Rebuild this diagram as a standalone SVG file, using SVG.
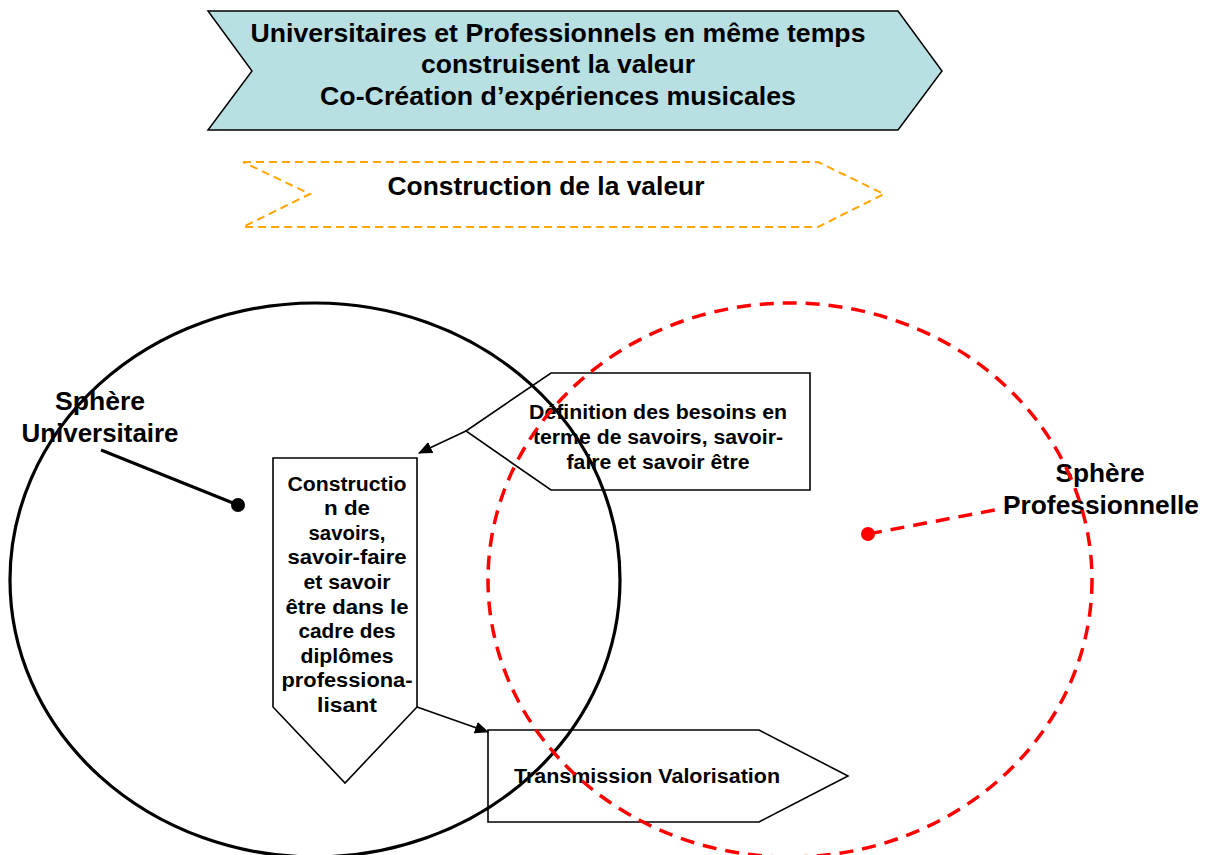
<svg xmlns="http://www.w3.org/2000/svg" width="1208" height="855" viewBox="0 0 1208 855">
<style>
text{font-family:"Liberation Sans",Arial,sans-serif;font-weight:bold;fill:#000;text-anchor:middle}
.big{font-size:26px}
.mid{font-size:19.5px}
.box{fill:#fff;stroke:#000;stroke-width:1.6}
</style>
<defs>
<marker id="ah" markerWidth="14" markerHeight="12" refX="13" refY="6" orient="auto" markerUnits="userSpaceOnUse" viewBox="0 0 14 12">
<path d="M0,0 L14,6 L0,12 z" fill="#000"/>
</marker>
</defs>
<rect width="1208" height="855" fill="#fff"/>
<g id="top-banner">
<polygon points="208,11 898,11 942,71 898,130 208,130 252,71" fill="#B8DFE2" stroke="#000" stroke-width="1.5"/>
<text class="big" x="558" y="42" textLength="615" lengthAdjust="spacingAndGlyphs">Universitaires et Professionnels en même temps</text>
<text class="big" x="558" y="73" textLength="274" lengthAdjust="spacingAndGlyphs">construisent la valeur</text>
<text class="big" x="558" y="105" textLength="476" lengthAdjust="spacingAndGlyphs">Co-Création d’expériences musicales</text>
</g>
<g id="construction-valeur">
<polygon points="243,162 818,162 884,194 818,227 243,227 310,194" fill="none" stroke="#FFA500" stroke-width="2" stroke-dasharray="8,5"/>
<text class="big" x="546" y="195" textLength="317" lengthAdjust="spacingAndGlyphs">Construction de la valeur</text>
</g>
<g id="definition">
<polygon class="box" points="466,431 551,373 810,373 810,490 551,490"/>
<text class="mid" x="658" y="419" textLength="258" lengthAdjust="spacingAndGlyphs">Définition des besoins en</text>
<text class="mid" x="658" y="444" textLength="250" lengthAdjust="spacingAndGlyphs">terme de savoirs, savoir-</text>
<text class="mid" x="658" y="469" textLength="183" lengthAdjust="spacingAndGlyphs">faire et savoir être</text>
</g>
<g id="construction-savoirs">
<polygon class="box" points="273,458 417,458 417,707 345,783 273,707"/>
<text class="mid" x="347" y="491" textLength="119" lengthAdjust="spacingAndGlyphs">Constructio</text>
<text class="mid" x="347" y="515" textLength="46" lengthAdjust="spacingAndGlyphs">n de</text>
<text class="mid" x="347" y="540" textLength="77" lengthAdjust="spacingAndGlyphs">savoirs,</text>
<text class="mid" x="347" y="564" textLength="119" lengthAdjust="spacingAndGlyphs">savoir-faire</text>
<text class="mid" x="347" y="589" textLength="87" lengthAdjust="spacingAndGlyphs">et savoir</text>
<text class="mid" x="347" y="614" textLength="123" lengthAdjust="spacingAndGlyphs">être dans le</text>
<text class="mid" x="347" y="638" textLength="97" lengthAdjust="spacingAndGlyphs">cadre des</text>
<text class="mid" x="347" y="663" textLength="93" lengthAdjust="spacingAndGlyphs">diplômes</text>
<text class="mid" x="347" y="687" textLength="131" lengthAdjust="spacingAndGlyphs">professiona-</text>
<text class="mid" x="347" y="712" textLength="60" lengthAdjust="spacingAndGlyphs">lisant</text>
</g>
<g id="transmission">
<polygon class="box" points="488,730 759,730 848,776 759,822 488,822"/>
<text class="mid" x="647" y="783" textLength="266" lengthAdjust="spacingAndGlyphs">Transmission Valorisation</text>
</g>
<g id="sphere-universitaire">
<text class="big" x="100" y="410" textLength="90" lengthAdjust="spacingAndGlyphs">Sphère</text>
<text class="big" x="100" y="442" textLength="157" lengthAdjust="spacingAndGlyphs">Universitaire</text>
</g>
<g id="sphere-professionnelle">
<text class="big" x="1100" y="482" textLength="89" lengthAdjust="spacingAndGlyphs">Sphère</text>
<text class="big" x="1101" y="514" textLength="196" lengthAdjust="spacingAndGlyphs">Professionnelle</text>
</g>
<g id="connectors">
<line x1="466" y1="431" x2="419" y2="453" stroke="#000" stroke-width="1.6" marker-end="url(#ah)"/>
<line x1="417" y1="707" x2="488" y2="732" stroke="#000" stroke-width="1.6" marker-end="url(#ah)"/>
<line x1="101" y1="450" x2="238" y2="505" stroke="#000" stroke-width="3"/>
<circle cx="238" cy="505" r="7" fill="#000"/>
<line x1="868" y1="534" x2="1000" y2="509" stroke="#FF0000" stroke-width="3.5" stroke-dasharray="14,9"/>
<circle cx="868" cy="534" r="7" fill="#FF0000"/>
</g>
<g id="circles">
<ellipse cx="315" cy="580" rx="305" ry="277" fill="none" stroke="#000" stroke-width="3.2"/>
<ellipse cx="790" cy="580" rx="302" ry="277" fill="none" stroke="#FF0000" stroke-width="3.5" stroke-dasharray="14,9"/>
</g>
</svg>
